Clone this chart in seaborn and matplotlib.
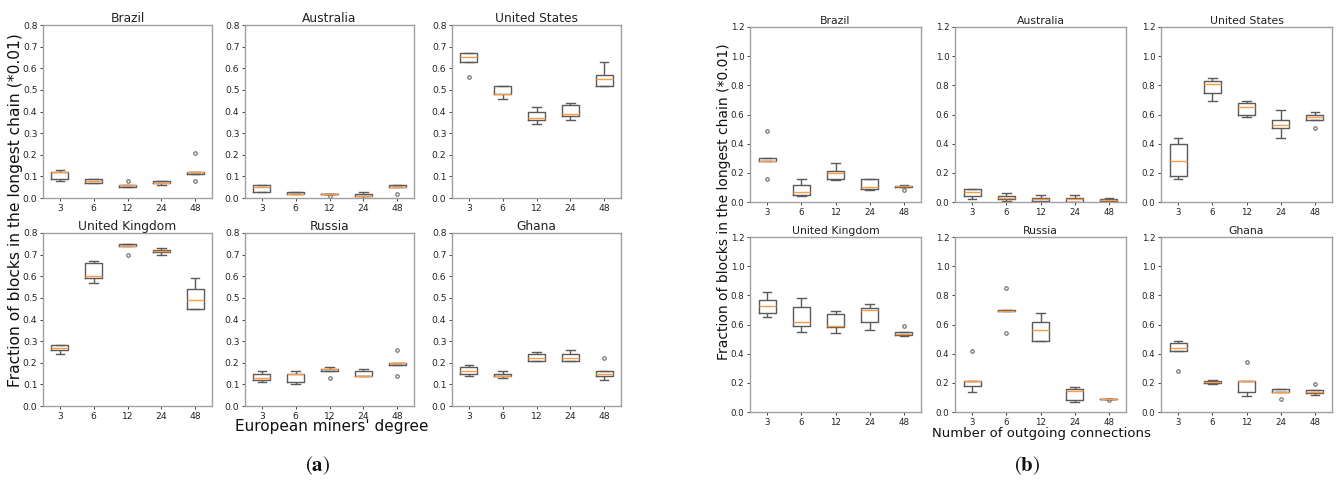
import numpy as np
import pandas as pd
import seaborn as sns
import matplotlib.pyplot as plt

# ---- data: five simulation runs per setting ----
degrees = [3, 6, 12, 24, 48]
countries = ["Brazil", "Australia", "United States", "United Kingdom", "Russia", "Ghana"]

# (a) fraction of blocks in the longest chain vs. European miners' degree
brazil_a = [[0.08, 0.09, 0.12, 0.12, 0.13], [0.07, 0.07, 0.08, 0.09, 0.09],
            [0.05, 0.05, 0.06, 0.06, 0.08], [0.06, 0.07, 0.07, 0.08, 0.08],
            [0.08, 0.11, 0.12, 0.12, 0.21]]
australia_a = [[0.03, 0.03, 0.05, 0.06, 0.06], [0.02, 0.02, 0.02, 0.03, 0.03],
               [0.01, 0.02, 0.02, 0.02, 0.02], [0.00, 0.01, 0.01, 0.02, 0.03],
               [0.02, 0.05, 0.05, 0.06, 0.06]]
us_a = [[0.56, 0.63, 0.65, 0.67, 0.67], [0.46, 0.48, 0.48, 0.52, 0.52],
        [0.34, 0.36, 0.37, 0.40, 0.42], [0.36, 0.38, 0.39, 0.43, 0.44],
        [0.52, 0.52, 0.55, 0.57, 0.63]]
uk_a = [[0.24, 0.26, 0.27, 0.28, 0.28], [0.57, 0.59, 0.60, 0.66, 0.67],
        [0.70, 0.74, 0.74, 0.75, 0.75], [0.70, 0.71, 0.715, 0.72, 0.73],
        [0.45, 0.45, 0.49, 0.54, 0.59]]
russia_a = [[0.11, 0.12, 0.13, 0.15, 0.16], [0.10, 0.11, 0.15, 0.15, 0.16],
            [0.13, 0.16, 0.17, 0.17, 0.18], [0.14, 0.14, 0.14, 0.16, 0.17],
            [0.14, 0.19, 0.20, 0.20, 0.26]]
ghana_a = [[0.14, 0.15, 0.16, 0.18, 0.19], [0.13, 0.14, 0.14, 0.15, 0.16],
           [0.21, 0.21, 0.22, 0.24, 0.25], [0.21, 0.21, 0.22, 0.24, 0.26],
           [0.12, 0.14, 0.15, 0.16, 0.22]]

# (b) fraction of blocks in the longest chain vs. number of outgoing connections
brazil_b = [[0.16, 0.28, 0.28, 0.30, 0.49], [0.04, 0.05, 0.07, 0.12, 0.16],
            [0.15, 0.16, 0.20, 0.21, 0.27], [0.08, 0.09, 0.10, 0.16, 0.16],
            [0.08, 0.10, 0.11, 0.11, 0.12]]
australia_b = [[0.02, 0.04, 0.07, 0.09, 0.09], [0.01, 0.02, 0.03, 0.04, 0.06],
               [0.00, 0.01, 0.02, 0.03, 0.05], [0.00, 0.00, 0.02, 0.03, 0.05],
               [0.01, 0.01, 0.015, 0.02, 0.03]]
us_b = [[0.16, 0.18, 0.28, 0.40, 0.44], [0.69, 0.75, 0.81, 0.83, 0.85],
        [0.58, 0.60, 0.65, 0.68, 0.69], [0.44, 0.51, 0.53, 0.56, 0.63],
        [0.51, 0.565, 0.58, 0.60, 0.62]]
uk_b = [[0.65, 0.68, 0.73, 0.77, 0.82], [0.55, 0.59, 0.62, 0.72, 0.78],
        [0.54, 0.58, 0.59, 0.67, 0.69], [0.56, 0.62, 0.70, 0.71, 0.74],
        [0.52, 0.53, 0.535, 0.55, 0.59]]
russia_b = [[0.14, 0.18, 0.21, 0.21, 0.42], [0.54, 0.69, 0.69, 0.70, 0.85],
            [0.49, 0.49, 0.56, 0.62, 0.68], [0.07, 0.08, 0.145, 0.16, 0.17],
            [0.08, 0.09, 0.09, 0.09, 0.09]]
ghana_b = [[0.28, 0.42, 0.44, 0.47, 0.49], [0.19, 0.20, 0.205, 0.21, 0.22],
           [0.11, 0.14, 0.21, 0.21, 0.34], [0.09, 0.14, 0.14, 0.16, 0.16],
           [0.12, 0.13, 0.14, 0.15, 0.19]]

runs_a = [brazil_a, australia_a, us_a, uk_a, russia_a, ghana_a]
runs_b = [brazil_b, australia_b, us_b, uk_b, russia_b, ghana_b]

ylabel = "Fraction of blocks in the longest chain (*0.01)"
xlabel_a = "European miners' degree"
xlabel_b = "Number of outgoing connections"


def to_frame(runs):
    rows = []
    for d, vals in zip(degrees, runs):
        for v in vals:
            rows.append({"degree": str(d), "fraction": v})
    return pd.DataFrame(rows)


W, H = 1338, 484
plt.rcParams["mathtext.fontset"] = "stix"
fig = plt.figure(figsize=(W / 100, H / 100), dpi=100)


def rect(left, top, right, bottom):
    return [left / W, 1 - bottom / H, (right - left) / W, (bottom - top) / H]


def draw_panel(runs, lefts, width, rows, ymax, ystep, title_fs, tick_fs):
    order = [str(d) for d in degrees]
    for i, (country, r) in enumerate(zip(countries, runs)):
        top, bottom = rows[i // 3]
        left = lefts[i % 3]
        ax = fig.add_axes(rect(left, top, left + width, bottom))
        sns.boxplot(data=to_frame(r), x="degree", y="fraction", order=order,
                    ax=ax, fill=False, color="#5a5a5a", width=0.5, linewidth=1.0,
                    medianprops={"color": "#ff9a45", "linewidth": 1.0},
                    flierprops={"marker": "o", "markersize": 2.5,
                                "markerfacecolor": "none",
                                "markeredgecolor": "#666666",
                                "markeredgewidth": 0.8})
        ax.set_xlim(-0.5, 4.5)
        ax.set_ylim(0, ymax)
        ax.set_yticks(np.arange(0, ymax + 1e-9, ystep))
        ax.set_yticklabels([f"{t:.1f}" for t in np.arange(0, ymax + 1e-9, ystep)])
        ax.set_xlabel("")
        ax.set_ylabel("")
        ax.set_title(country, fontsize=title_fs, pad=2, color="#222222")
        ax.tick_params(labelsize=tick_fs, length=2.5, width=0.7,
                       colors="#444444", labelcolor="#222222", pad=1.5)
        for s in ax.spines.values():
            s.set_color("#a0a0a0")
            s.set_linewidth(1.0)


draw_panel(runs_a, [43, 245, 452], 169, [(25, 198), (233, 406)], 0.8, 0.1, 8.8, 6.6)
draw_panel(runs_b, [750, 955, 1161], 171, [(27, 202), (237, 412)], 1.2, 0.2, 7.8, 6.2)

fig.text(16 / W, 1 - 210 / H, ylabel, rotation=90, ha="center", va="center",
         fontsize=11.2, color="#111111")
fig.text(724 / W, 1 - 202 / H, ylabel, rotation=90, ha="center", va="center",
         fontsize=10.0, color="#111111")
fig.text(332 / W, 1 - 426 / H, xlabel_a, ha="center", va="center",
         fontsize=11, color="#111111")
fig.text(1041 / W, 1 - 434 / H, xlabel_b, ha="center", va="center",
         fontsize=9.5, color="#111111")

fig.text(318 / W, 1 - 466 / H, r"$(\mathbf{a})$", ha="center", va="center",
         fontsize=15, color="#111111")
fig.text(1027 / W, 1 - 466 / H, r"$(\mathbf{b})$", ha="center", va="center",
         fontsize=15, color="#111111")

fig.savefig("out.png", dpi=100)
